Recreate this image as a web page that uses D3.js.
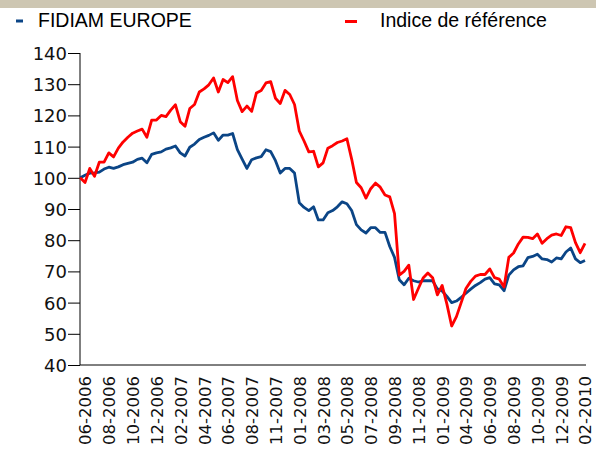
<!DOCTYPE html>
<meta charset="utf-8">
<title>FIDIAM EUROPE</title>
<style>
  body { margin: 0; background-color: white; }
  .axis path, .axis line { stroke: #000; }
  .axis text { font-family: "DejaVu Sans", sans-serif; fill: #111; }
  .legend text { font-family: "Liberation Sans", Arial, sans-serif; font-size: 19.5px; fill: #000; }
</style>
<svg width="596" height="460"></svg>
<script src="https://d3js.org/d3.v7.min.js"></script>
<script>
// x labels (evenly spaced, as in the source chart)
var xLabels = ["06-2006","08-2006","10-2006","12-2006","02-2007","04-2007","06-2007","08-2007",
               "11-2007","01-2008","03-2008","05-2008","07-2008","09-2008","11-2008","01-2009",
               "04-2009","06-2009","08-2009","10-2009","12-2009","02-2010"];
var yTicks = [40,50,60,70,80,90,100,110,120,130,140];

// values, one every 0.2 label step, starting 0.2 before the first label
var fundValues = [100,100.8,101.5,101.6,101.8,102.8,103.4,103,103.5,104.2,104.6,105,105.9,106.3,104.8,
  107.5,108,108.3,109.2,109.6,110.2,108,107,109.8,110.8,112.3,113,113.6,114.4,112,113.7,113.7,114.2,
  109,106,103,105.8,106.4,106.8,109,108.4,105.5,101.5,103,103,101.5,92,90.5,89.5,90.7,86.5,86.5,88.8,
  89.5,90.7,92.3,91.7,89.5,85,83.3,82.3,84,84,82.5,82.5,78,74.5,67.3,65.7,67.8,67,66.6,67,67,67,64.4,
  63.7,62,60,60.5,61.7,63,64.3,65.5,66.4,67.5,68,66,65.7,63.8,68.8,70.5,71.5,71.8,74.4,74.8,75.5,74,
  73.8,73,74.3,74,76.2,77.5,74,72.8,73.5];
var indexValues = [100,98.5,103,100.5,105,105,108,106.7,109.5,111.5,113,114.3,115,115.6,113,118.5,
  118.5,120,119.6,121.7,123.4,118,116.5,122.2,123.5,127.5,128.5,129.8,132,127.5,131.5,130.5,132.4,
  124.8,121.2,123,121.3,127.2,128,130.4,130.8,125.5,123.8,128,126.7,123.5,115,111.8,108.3,108.5,103.5,
  104.8,109.5,110.3,111.3,111.8,112.5,106,98.5,96.8,93.5,96.5,98.3,97,94.5,93.9,88.5,68.8,70,72,61,
  64.5,67.9,69.5,68,62.5,65.5,59.5,52.5,55.5,60,64.5,66.8,68.5,69,69,70.8,68,67.5,65,74.5,75.9,78.8,
  81,80.9,80.5,82,79,80.5,81.6,82,81.5,84.3,84,79.2,76,79];

var seriesNames = ["FIDIAM EUROPE", "Indice de référence"];
var seriesColors = ["#0b4586", "#ff0000"];

var svg = d3.select("svg");

// top band (clipped title bar)
svg.append("rect").attr("x", 0).attr("y", 0).attr("width", 596).attr("height", 8).attr("fill", "#cdc6b2");

var x = d3.scaleLinear().domain([0, xLabels.length - 1]).range([85, 585]);
var y = d3.scaleLinear().domain([40, 140]).range([365, 53]);

// y axis
var yAxis = svg.append("g")
    .attr("class", "axis")
    .attr("transform", "translate(80,0)")
    .call(d3.axisLeft(y).tickValues(yTicks).tickSize(12).tickPadding(1));
yAxis.select(".domain").attr("d", "M0,53V365");
yAxis.selectAll("text").style("font-size", "18px").attr("dy", "0.36em");

// x axis
var xAxis = svg.append("g")
    .attr("class", "axis")
    .attr("transform", "translate(0,365)")
    .call(d3.axisBottom(x).tickValues(d3.range(xLabels.length)).tickSize(0)
      .tickFormat(function(d) { return xLabels[d]; }));
xAxis.select(".domain").attr("d", "M80,0H586");
xAxis.selectAll("text")
    .style("font-size", "16.5px")
    .attr("text-anchor", "end")
    .attr("transform", "rotate(-90)")
    .attr("x", -11)
    .attr("y", 0)
    .attr("dy", "0.36em");

// lines
var line = d3.line()
    .x(function(d, i) { return x(-0.2 + 0.2 * i); })
    .y(function(d) { return y(d); });

[fundValues, indexValues].forEach(function(vals, s) {
  svg.append("path")
      .datum(vals)
      .attr("fill", "none")
      .attr("stroke", seriesColors[s])
      .attr("stroke-width", 2.8)
      .attr("stroke-linejoin", "round")
      .attr("d", line);
});

// legend
var legend = svg.append("g").attr("class", "legend");
var legendX = [16, 345];
seriesNames.forEach(function(name, i) {
  legend.append("line")
      .attr("x1", legendX[i]).attr("x2", legendX[i] + (i === 0 ? 7 : 12))
      .attr("y1", i === 0 ? 21 : 21.5).attr("y2", i === 0 ? 21 : 21.5)
      .attr("stroke", seriesColors[i]).attr("stroke-width", 3);
  legend.append("text")
      .attr("x", legendX[i] + (i === 0 ? 22 : 35))
      .attr("y", 27)
      .text(name);
});
</script>
